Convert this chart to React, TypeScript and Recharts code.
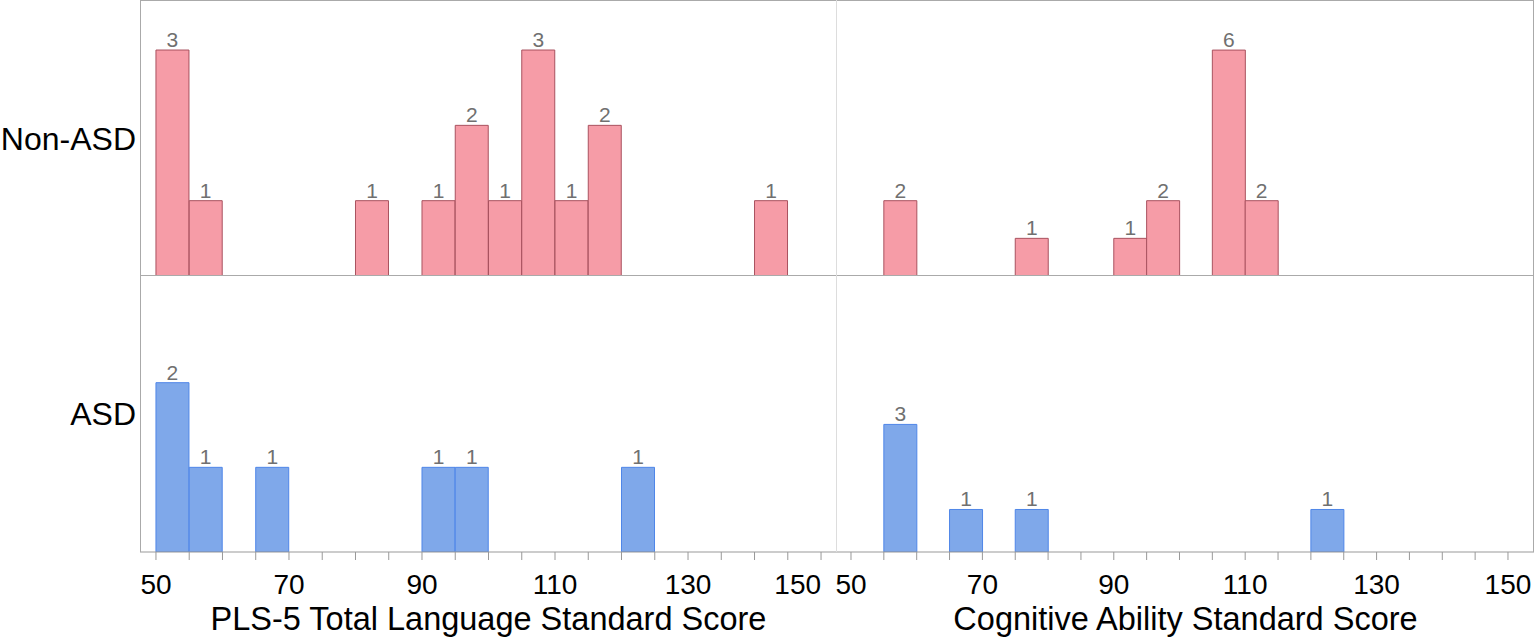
import React from 'react';
import { Bar, BarChart, Label, LabelList, XAxis, YAxis } from 'recharts';

// histogram bins are 5 points wide, listed by their lower edge
const binStarts = [50, 55, 60, 65, 70, 75, 80, 85, 90, 95, 100, 105, 110, 115, 120, 125, 130, 135, 140, 145];
const plsNonAsd = [3, 1, 0, 0, 0, 0, 1, 0, 1, 2, 1, 3, 1, 2, 0, 0, 0, 0, 1, 0];
const plsAsd = [2, 1, 0, 1, 0, 0, 0, 0, 1, 1, 0, 0, 0, 0, 1, 0, 0, 0, 0, 0];
const cogNonAsd = [0, 2, 0, 0, 0, 1, 0, 0, 1, 2, 0, 6, 2, 0, 0, 0, 0, 0, 0, 0];
const cogAsd = [0, 3, 0, 1, 0, 1, 0, 0, 0, 0, 0, 0, 0, 0, 1, 0, 0, 0, 0, 0];

const axisTicks = [50, 55, 60, 65, 70, 75, 80, 85, 90, 95, 100, 105, 110, 115, 120, 125, 130, 135, 140, 145, 150];
const tickLabels = [50, 70, 90, 110, 130, 150];
const groups = ['Non-ASD', 'ASD'];
const axisTitles = ['PLS-5 Total Language Standard Score', 'Cognitive Ability Standard Score'];

const FONT = '"Liberation Sans", Arial, Helvetica, sans-serif';
const PINK = { fill: '#F69CA7', stroke: '#A9525F' };
const BLUE = { fill: '#7FA8EA', stroke: '#4F86E8' };

const toRows = (counts: number[]) =>
  binStarts.map((start, i) => ({ mid: start + 2.5, count: counts[i] }));

function ScoreTick(props: any) {
  const { x, y, payload, endLast } = props;
  if (!tickLabels.includes(payload.value)) return null;
  const anchor = endLast && payload.value === 150 ? 'end' : 'middle';
  return (
    <text x={x} y={y} dy={32} textAnchor={anchor} fontSize={28} fill="#000" fontFamily={FONT}>
      {payload.value}
    </text>
  );
}

// count above each bar, skipped for empty bins
function CountLabel(props: any) {
  const { x, y, width, value } = props;
  if (!value) return null;
  return (
    <text x={x + width / 2} y={y - 3} textAnchor="middle" fontSize={21} fill="#707070" fontFamily={FONT}>
      {value}
    </text>
  );
}

interface PanelProps {
  counts: number[];
  colors: { fill: string; stroke: string };
  xDomain: [number, number];
  yMax: number;
  title?: string;
  endLast?: boolean;
}

const Panel = ({ counts, colors, xDomain, yMax, title, endLast }: PanelProps) => {
  const showAxis = !!title;
  return (
    <BarChart
      width={697}
      height={showAxis ? 364 : 276}
      data={toRows(counts)}
      margin={{ top: 0, right: 0, left: 0, bottom: 0 }}
      barCategoryGap={0}
      barGap={0}
    >
      <XAxis
        type="number"
        dataKey="mid"
        domain={xDomain}
        allowDataOverflow
        ticks={axisTicks}
        interval={0}
        hide={!showAxis}
        height={88}
        tickSize={8}
        tickLine={{ stroke: '#999' }}
        axisLine={{ stroke: '#999' }}
        tick={(p: any) => <ScoreTick {...p} endLast={endLast} />}
      >
        {showAxis && (
          <Label value={title} position="insideBottom" offset={10} fontSize={32.5} fill="#000" fontFamily={FONT} />
        )}
      </XAxis>
      <YAxis hide domain={[0, yMax]} allowDataOverflow />
      <Bar dataKey="count" fill={colors.fill} stroke={colors.stroke} strokeWidth={1} isAnimationActive={false}>
        <LabelList dataKey="count" content={CountLabel} />
      </Bar>
    </BarChart>
  );
};

export default function App() {
  const leftDomain: [number, number] = [47.6, 152.4];
  const rightDomain: [number, number] = [47.87, 153.96];
  const place = (left: number, top: number): React.CSSProperties => ({ position: 'absolute', left, top });

  return (
    <div style={{ position: 'absolute', left: 0, top: 0, width: 1536, height: 640, background: '#fff', fontFamily: FONT }}>
      <style>{'.recharts-surface{overflow:visible}'}</style>
      <div style={place(140, 0)}>
        <Panel counts={plsNonAsd} colors={PINK} xDomain={leftDomain} yMax={3.664} />
      </div>
      <div style={place(837, 0)}>
        <Panel counts={cogNonAsd} colors={PINK} xDomain={rightDomain} yMax={7.33} />
      </div>
      <div style={place(140, 276)}>
        <Panel counts={plsAsd} colors={BLUE} xDomain={leftDomain} yMax={3.26} title={axisTitles[0]} endLast />
      </div>
      <div style={place(837, 276)}>
        <Panel counts={cogAsd} colors={BLUE} xDomain={rightDomain} yMax={6.49} title={axisTitles[1]} />
      </div>

      {/* frame and panel dividers */}
      <div style={{ position: 'absolute', left: 140, top: 0, width: 1394, height: 552, boxSizing: 'border-box', border: '1px solid #aaa', borderBottom: 'none', pointerEvents: 'none' }} />
      <div style={{ position: 'absolute', left: 140, top: 275, width: 1394, height: 1, background: '#aaa' }} />
      <div style={{ position: 'absolute', left: 836, top: 0, width: 1, height: 552, background: '#ddd' }} />

      <svg style={{ position: 'absolute', left: 0, top: 0 }} width={140} height={552}>
        <text x={136} y={150} textAnchor="end" fontSize={32} fill="#000" fontFamily={FONT}>{groups[0]}</text>
        <text x={136} y={425} textAnchor="end" fontSize={32} fill="#000" fontFamily={FONT}>{groups[1]}</text>
      </svg>
    </div>
  );
}
